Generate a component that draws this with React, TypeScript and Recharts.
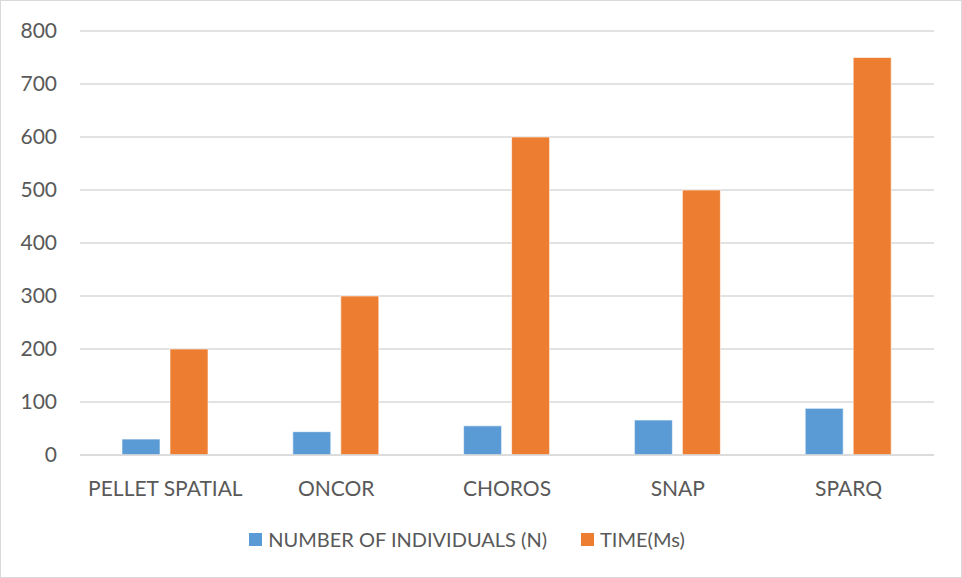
import React from 'react';
import { BarChart, Bar, XAxis, YAxis, CartesianGrid, Legend } from 'recharts';

const categories = ['PELLET SPATIAL', 'ONCOR', 'CHOROS', 'SNAP', 'SPARQ'];
const individuals = [30, 44, 55, 66, 88];
const timeMs = [200, 300, 600, 500, 750];
const yTicks = [0, 100, 200, 300, 400, 500, 600, 700, 800];

const data = categories.map((name, i) => ({
  name,
  individuals: individuals[i],
  time: timeMs[i],
}));

const FONT = 'Lato, "Open Sans", sans-serif';
const TEXT = '#595959';

const LegendContent = (props: any) => {
  const items = props.payload || [];
  return (
    <div style={{ display: 'flex', justifyContent: 'center', alignItems: 'center', marginTop: 12, fontFamily: FONT, fontSize: 20, color: TEXT }}>
      {items.map((it: any, i: number) => (
        <div key={i} style={{ display: 'flex', alignItems: 'center', marginRight: i < items.length - 1 ? 34 : 0 }}>
          <span style={{ width: 13, height: 13, background: it.color, display: 'inline-block', marginRight: 6 }} />
          <span>{it.value}</span>
        </div>
      ))}
    </div>
  );
};

const App: React.FC = () => {
  return (
    <div style={{ position: 'absolute', left: 0, top: 0, width: 962, height: 578, background: '#fff' }}>
      <div style={{ position: 'absolute', left: 0, top: 0, width: 960, height: 576, border: '1px solid #d9d9d9' }} />
      <BarChart
        width={962}
        height={578}
        data={data}
        margin={{ top: 31, right: 28, left: 0, bottom: 20 }}
        barSize={38}
        barGap={10}
      >
        <CartesianGrid vertical={false} stroke="#d9d9d9" strokeWidth={1.3} />
        <XAxis
          dataKey="name"
          axisLine={{ stroke: '#d9d9d9', strokeWidth: 1.3 }}
          tickLine={false}
          tickMargin={20}
          height={60}
          tick={{ fill: TEXT, fontSize: 21, fontFamily: FONT }}
        />
        <YAxis
          domain={[0, 800]}
          ticks={yTicks}
          axisLine={false}
          tickLine={false}
          width={80}
          tickMargin={17}
          tick={{ fill: TEXT, fontSize: 21, fontFamily: FONT }}
        />
        <Legend verticalAlign="bottom" height={43} content={<LegendContent />} />
        <Bar dataKey="individuals" name="NUMBER OF INDIVIDUALS (N)" fill="#5B9BD5" stroke="#ffffff" strokeOpacity={0.6} strokeWidth={1} isAnimationActive={false} />
        <Bar dataKey="time" name="TIME(Ms)" fill="#ED7D31" stroke="#ffffff" strokeOpacity={0.6} strokeWidth={1} isAnimationActive={false} />
      </BarChart>
    </div>
  );
};

export default App;
